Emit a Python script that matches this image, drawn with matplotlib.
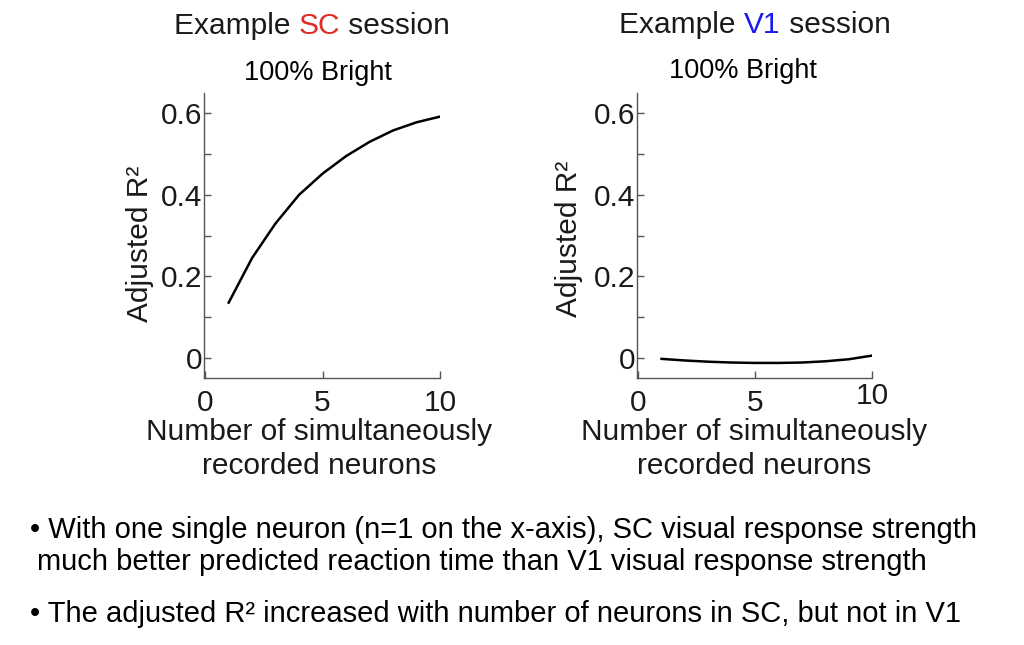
import matplotlib
matplotlib.use("Agg")
import matplotlib.pyplot as plt
import matplotlib.transforms as mtransforms
import numpy as np

plt.rcParams['font.family'] = ['Liberation Sans', 'DejaVu Sans']

# ---- data ----
n_neurons = [1, 2, 3, 4, 5, 6, 7, 8, 9, 10]
sc_r2 = [0.135, 0.245, 0.330, 0.400, 0.452, 0.495, 0.530, 0.558, 0.578, 0.592]
v1_r2 = [-0.003, -0.007, -0.010, -0.012, -0.013, -0.013, -0.012, -0.009, -0.004, 0.005]
x_ticks = [0, 5, 10]
y_ticks = [0, 0.2, 0.4, 0.6]
y_minor = [0.1, 0.3, 0.5]
y_ticklabels = ['0', '0.2', '0.4', '0.6']

W, H = 1024, 645
fig = plt.figure(figsize=(W / 100, H / 100), dpi=100)

AXCOL = '#555555'
TXT = '#1a1a1a'
FS = 21.5

def make_ax(left_px, right_px, ydata):
    ax = fig.add_axes([left_px / W, 1 - 378 / H, (right_px - left_px) / W, (378 - 93) / H])
    ax.plot(n_neurons, ydata, color='black', lw=1.8)
    ax.set_xlim(-0.05, 10)
    ax.set_ylim(-0.05, 0.65)
    for s in ['top', 'right']:
        ax.spines[s].set_visible(False)
    for s in ['left', 'bottom']:
        ax.spines[s].set_color(AXCOL)
        ax.spines[s].set_linewidth(1.0)
    ax.set_xticks(x_ticks)
    ax.set_xticklabels([str(t) for t in x_ticks])
    ax.set_yticks(y_ticks)
    ax.set_yticklabels(y_ticklabels)
    ax.set_yticks(y_minor, minor=True)
    ax.tick_params(axis='both', which='both', direction='in', length=5, width=1.0,
                   color=AXCOL, labelsize=FS, labelcolor=TXT)
    ax.tick_params(axis='x', pad=8)
    ax.tick_params(axis='y', pad=1)
    ax.patch.set_alpha(0)
    return ax

ax1 = make_ax(204, 440, sc_r2)
ax2 = make_ax(637, 872, v1_r2)

# the last x tick label of the V1 panel sits slightly higher in the original
lbl = ax2.xaxis.get_major_ticks()[-1].label1
lbl.set_transform(lbl.get_transform() + mtransforms.ScaledTranslation(0, 7 / 100, fig.dpi_scale_trans))

# y labels
fig.text(140 / W, 1 - 244 / H, 'Adjusted R\u00b2', rotation=90, ha='center', va='center',
         fontsize=FS, color=TXT)
fig.text(569 / W, 1 - 239 / H, 'Adjusted R\u00b2', rotation=90, ha='center', va='center',
         fontsize=FS, color=TXT)

# x labels
for cx in (319, 754):
    fig.text(cx / W, 1 - 432 / H, 'Number of simultaneously', ha='center', va='center',
             fontsize=FS, color=TXT)
    fig.text(cx / W, 1 - 466 / H, 'recorded neurons', ha='center', va='center',
             fontsize=FS, color=TXT)

# subtitles
fig.text(318 / W, 1 - 73 / H, '100% Bright', ha='center', va='center', fontsize=19.5, color='black')
fig.text(743 / W, 1 - 71 / H, '100% Bright', ha='center', va='center', fontsize=19.5, color='black')

# titles with coloured word
fig.canvas.draw()
renderer = fig.canvas.get_renderer()

def multicolor_title(cx_px, cy_px, parts, fs):
    texts = []
    for s, c in parts:
        t = fig.text(0, 1 - cy_px / H, s, ha='left', va='center', fontsize=fs, color=c)
        texts.append(t)
    widths = [t.get_window_extent(renderer).width for t in texts]
    total = sum(widths)
    x = cx_px - total / 2
    for t, w in zip(texts, widths):
        t.set_x(x / W)
        x += w

multicolor_title(312, 26, [('Example ', TXT), ('SC', '#e02b2b'), (' session', TXT)], FS)
multicolor_title(755, 25, [('Example ', TXT), ('V1', '#1a1aee'), (' session', TXT)], FS)

# bullets
BFS = 21
fig.text(30 / W, 1 - 530 / H, '\u2022 With one single neuron (n=1 on the x-axis), SC visual response strength',
         ha='left', va='center', fontsize=BFS, color='black')
fig.text(37 / W, 1 - 562 / H, 'much better predicted reaction time than V1 visual response strength',
         ha='left', va='center', fontsize=BFS, color='black')
fig.text(30 / W, 1 - 614 / H, '\u2022 The adjusted R\u00b2 increased with number of neurons in SC, but not in V1',
         ha='left', va='center', fontsize=BFS, color='black')

fig.savefig('out.png', dpi=100, facecolor='white')
